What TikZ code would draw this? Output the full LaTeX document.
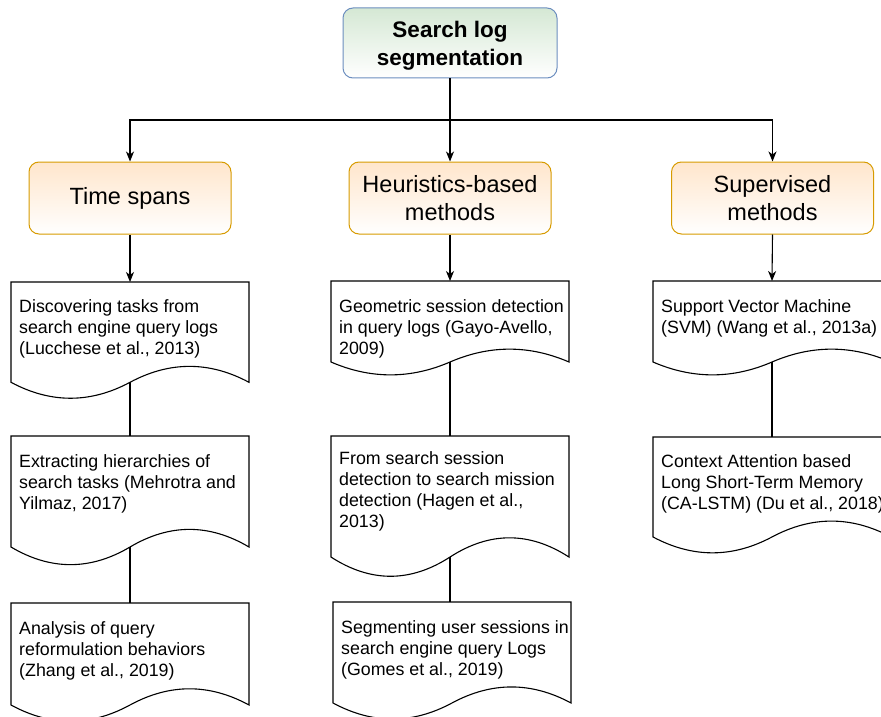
\documentclass[tikz,border=0pt]{standalone}
\usepackage{fontspec}
\setmainfont{Liberation Sans}
\usetikzlibrary{arrows.meta,calc}

\definecolor{rootfill}{HTML}{D5E8D4}
\definecolor{rootline}{HTML}{6C8EBF}
\definecolor{catfill}{HTML}{FFE6CC}
\definecolor{catline}{HTML}{D79B00}

\tikzset{
  rootbox/.style={draw=rootline, line width=1pt, rounded corners=10pt,
    top color=rootfill, bottom color=white, minimum width=214pt,
    minimum height=70pt, inner sep=0pt},
  roottext/.style={align=center, inner sep=0pt,
    font=\fontsize{22.5}{28}\selectfont\bfseries},
  catbox/.style={draw=catline, line width=1pt, rounded corners=10pt,
    top color=catfill, bottom color=white, minimum width=202pt,
    minimum height=72pt, align=center, inner sep=0pt,
    font=\fontsize{23.5}{28}\selectfont},
  docframe/.style={draw=none, inner sep=0pt, outer sep=0pt, anchor=north west},
  docline/.style={draw=black, line width=1.1pt, fill=white},
  doctext/.style={anchor=north west, inner sep=0pt, align=left,
    font=\fontsize{17.8}{21}\selectfont},
  arr/.style={draw=black, line width=1.1pt,
    -{Stealth[length=10pt,width=8pt,inset=3pt]}},
  link/.style={draw=black, line width=1.1pt},
}

% document shape: name, left x, top y, width, height, text, first baseline offset
\newcommand\docnode[7]{%
  \node[docframe, minimum width=#4pt, minimum height={0.85*#5pt}] (#1) at (#2,#3) {};
  \draw[docline] (#2,{#3+0.85*#5}) -- (#2,#3) -- ({#2+#4},#3) -- ({#2+#4},{#3+0.85*#5})
    .. controls ({#2+0.8333*#4},{#3+0.67*#5}) and ({#2+0.6667*#4},{#3+0.67*#5}) .. ({#2+0.5*#4},{#3+0.85*#5})
    .. controls ({#2+0.3333*#4},{#3+1.03*#5}) and ({#2+0.1667*#4},{#3+1.03*#5}) .. cycle;
  \node[doctext] (#1-text) at ({#2+8},{#3+#7-14.7}) {\strut #6};
}

\begin{document}
\begin{tikzpicture}[x=1pt, y=-1pt]
  \path[use as bounding box] (0,0) rectangle (881,717);
  \clip (0,0) rectangle (881,717);

  % root and categories
  \node[rootbox] (root) at (450,43) {};
  \node[roottext] (root-label) at (450,46) {Search log\\segmentation};
  \node[catbox] (time) at (130,198) {Time spans};
  \node[catbox] (heur) at (450,198) {Heuristics-based\\methods};
  \node[catbox] (sup) at (772.5,198) {Supervised\\methods};

  % papers
  \docnode{l1}{11}{282}{238}{118}{Discovering tasks from\\search engine query logs\\(Lucchese et al., 2013)}{30}
  \docnode{l2}{11}{436}{238}{130.6}{Extracting hierarchies of\\search tasks (Mehrotra and\\Yilmaz, 2017)}{31}
  \docnode{l3}{11}{603}{238}{120}{Analysis of query\\reformulation behaviors\\(Zhang et al., 2019)}{31}

  \docnode{m1}{331}{281}{238}{95.3}{Geometric session detection\\in query logs (Gayo-Avello,\\2009)}{31}
  \docnode{m2}{331}{436}{238}{142.4}{From search session\\detection to search mission\\detection (Hagen et al.,\\2013)}{28}
  \docnode{m3}{333}{602}{238}{118.8}{Segmenting user sessions in\\search engine query Logs\\(Gomes et al., 2019)}{31}

  \docnode{r1}{653}{281}{238}{95.3}{Support Vector Machine\\(SVM) (Wang et al., 2013a)}{31}
  \docnode{r2}{653}{437}{238}{117.6}{Context Attention based\\Long Short-Term Memory\\(CA-LSTM) (Du et al., 2018)}{30}

  % tree connectors
  \coordinate (branch) at (450,120);
  \draw[link] (root.south) -- (branch);
  \draw[arr] (branch) -| (time.north);
  \draw[arr] (branch) -- (heur.north);
  \draw[arr] (branch) -| (sup.north);

  \draw[arr] (time.south) -- (l1.north);
  \draw[arr] (heur.south) -- (m1.north);
  \draw[arr] (sup.south) -- (r1.north);

  \draw[link] (l1.south) -- (l2.north);
  \draw[link] (l2.south) -- (l3.north);
  \draw[link] (m1.south) -- (m2.north);
  \draw[link] (m2.south) -- (m2.south |- m3.north);
  \draw[link] (r1.south) -- (r2.north);
\end{tikzpicture}
\end{document}
